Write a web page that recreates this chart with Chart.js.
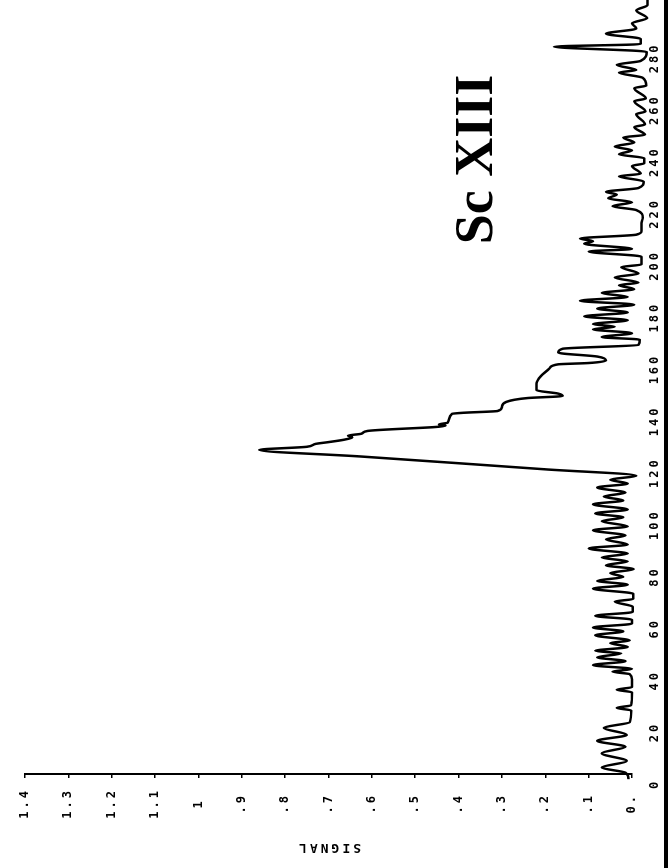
<!DOCTYPE html>
<html>
<head>
<meta charset="utf-8">
<script src="https://cdn.jsdelivr.net/npm/chart.js@4.4.1/dist/chart.umd.min.js"></script>
<style>
html,body{margin:0;padding:0;background:#fff;overflow:hidden;width:670px;height:868px;}
#wrap{position:absolute;left:0;top:0;width:868px;height:670px;transform-origin:0 0;transform:translate(0px,868px) rotate(-90deg);}
canvas{display:block;}
</style>
</head>
<body>
<div id="wrap"><canvas id="c" width="868" height="670"></canvas></div>
<script>
// Spectrum trace: channel positions and signal values
const channel = [
  -2.5,-1.5,-0.5,2,4,6.5,9.5,12,14.3,16.6,
  19.3,21.5,26,27,28,33,34,35,38,40,
  41,42,43.5,45,46.5,48,49,50.5,52,53,
  55,56.5,58,59.5,61,62.5,64,66,68,69,
  71,73,74.5,76,77.5,79,80.5,82,83.5,85,
  86.5,88.5,90,92,93.5,95.5,97,99,100.5,102,
  103.5,105.5,107,108.5,110,112,113.5,115,116.5,119,
  121,124,126.5,127.7,128.8,129.5,130.4,131.3,132,132.7,
  133.8,135.8,136.3,137,140.4,140.8,141.5,143,145,146.5,
  147.3,148.2,149.5,152,155,158,159.5,160,161,162.5,
  164,165.5,167,169,170,171.5,173,174,175,176.5,
  178,179.5,181,182.5,184,185.5,187,188.5,190,191,
  193,194.5,197,198,201,203,204,206,207,208,
  209.5,211,214,216,219,220.5,222,223.5,225,226,
  227.5,230,232,233,236,237,239,240.5,242,243.5,
  245,247,248,251,252,256,257,261,262,266,
  267,270,272,273,275,276.5,280,282,283,285,
  287,289,291,293,296,298,300
];
const signal = [
  0.005,0.075,0.008,0.015,0.07,0.012,0.07,0.015,0.08,0.012,
  0.065,0.005,0.002,0.035,0.002,0,0.035,0,0,0.005,
  0.045,0,0.09,0.015,0.08,0.025,0.085,0.01,0.05,0.005,
  0.085,0.02,0.09,0,0,0.085,-0.002,-0.002,0.04,-0.003,
  -0.003,0.09,0.01,0.08,0.02,0.05,-0.004,0.06,0.01,0.07,
  0.01,0.1,0.01,0.06,0.015,0.09,0.01,0.07,0.02,0.085,
  0.01,0.09,0.02,0.065,0.015,0.08,0.01,0.05,-0.01,0.2,
  0.37,0.63,0.86,0.75,0.73,0.70,0.665,0.645,0.655,0.625,
  0.61,0.43,0.445,0.425,0.415,0.39,0.31,0.30,0.29,0.24,
  0.16,0.17,0.22,0.22,0.21,0.19,0.17,0.10,0.06,0.08,
  0.17,0.16,-0.015,-0.018,0.07,0,0.09,0.04,0.09,0.01,
  0.11,0.01,0.08,-0.005,0.12,0.01,0.07,-0.005,0.03,-0.015,
  0.04,-0.015,0.025,-0.022,-0.022,0.1,0,0.11,0.09,0.12,
  -0.01,-0.022,-0.022,-0.025,-0.01,0.045,0,0.055,0.035,0.06,
  -0.015,-0.027,0.03,-0.02,0,-0.028,-0.028,0.03,0,0.04,
  -0.005,0.02,-0.03,-0.005,-0.03,-0.01,-0.031,-0.005,-0.032,-0.005,
  -0.033,-0.025,0.03,-0.01,0.035,-0.02,-0.034,0.18,-0.02,-0.02,
  0.06,-0.01,0,-0.035,-0.01,-0.036,-0.036
];
const channelTicks = [0,20,40,60,80,100,120,140,160,180,200,220,240,260,280];
const signalTicks = [0,0.1,0.2,0.3,0.4,0.5,0.6,0.7,0.8,0.9,1.0,1.1,1.2,1.3,1.4];
const signalTickLabels = ['0.','.1','.2','.3','.4','.5','.6','.7','.8','.9','1','1.1','1.2','1.3','1.4'];
const panelLabel = 'Sc XIII';
const panelLabelAt = {channel: 238.5, signal: 0.356};

const monoBold = (size) => ({family: '"DejaVu Sans Mono", monospace', size: size, weight: 'bold'});

const extras = {
  id: 'extras',
  beforeUpdate(chart) { chart.ctx.letterSpacing = '3px'; },
  beforeDraw(chart) { chart.ctx.letterSpacing = '3px'; },
  afterDatasetsDraw(chart) {
    const ctx = chart.ctx;
    const xs = chart.scales.x, ys = chart.scales.y;
    ctx.save();
    ctx.letterSpacing = '0px';
    ctx.fillStyle = '#000';
    ctx.font = 'bold 54px "Liberation Serif", serif';
    ctx.textAlign = 'center';
    ctx.textBaseline = 'middle';
    ctx.fillText(panelLabel, xs.getPixelForValue(panelLabelAt.channel), ys.getPixelForValue(panelLabelAt.signal));
    // dark scan edge along the far side of the channel axis
    ctx.fillRect(0, chart.height - 6, chart.width, 4);
    ctx.restore();
  }
};

new Chart(document.getElementById('c'), {
  type: 'line',
  data: {
    datasets: [{
      data: channel.map((c, i) => ({x: c, y: signal[i]})),
      borderColor: '#000',
      borderWidth: 2.5,
      pointRadius: 0,
      fill: false,
      cubicInterpolationMode: 'monotone',
      clip: false
    }]
  },
  options: {
    responsive: false,
    animation: false,
    devicePixelRatio: 1,
    layout: {padding: {top: 25, right: 0, bottom: 0, left: 0}},
    plugins: {legend: {display: false}, tooltip: {enabled: false}},
    scales: {
      x: {
        type: 'linear', min: 1.5, max: 300,
        afterBuildTicks: s => { s.ticks = channelTicks.map(v => ({value: v})); },
        ticks: {color: '#000', font: monoBold(12), padding: 8, maxRotation: 0, autoSkip: false,
                labelOffset: -6, callback: v => String(v)},
        grid: {display: false},
        border: {display: false},
        afterFit: s => { s.height = 38; }
      },
      y: {
        type: 'linear', min: 0, max: 1.4,
        afterBuildTicks: s => { s.ticks = signalTicks.map(v => ({value: v})); },
        ticks: {color: '#000', font: monoBold(12), padding: 10, autoSkip: false, crossAlign: 'center',
                callback: (v) => { const i = signalTicks.findIndex(t => Math.abs(t - v) < 1e-6); return i >= 0 ? signalTickLabels[i] : ''; }},
        grid: {drawOnChartArea: false, drawTicks: true, tickLength: 4, color: '#000', lineWidth: 1.5},
        border: {display: true, color: '#000', width: 2},
        title: {display: true, text: 'SIGNAL', color: '#000', font: monoBold(13), padding: {top: 13, bottom: 0}},
        afterFit: s => { s.width = 94; }
      }
    }
  },
  plugins: [extras]
});
</script>
</body>
</html>
